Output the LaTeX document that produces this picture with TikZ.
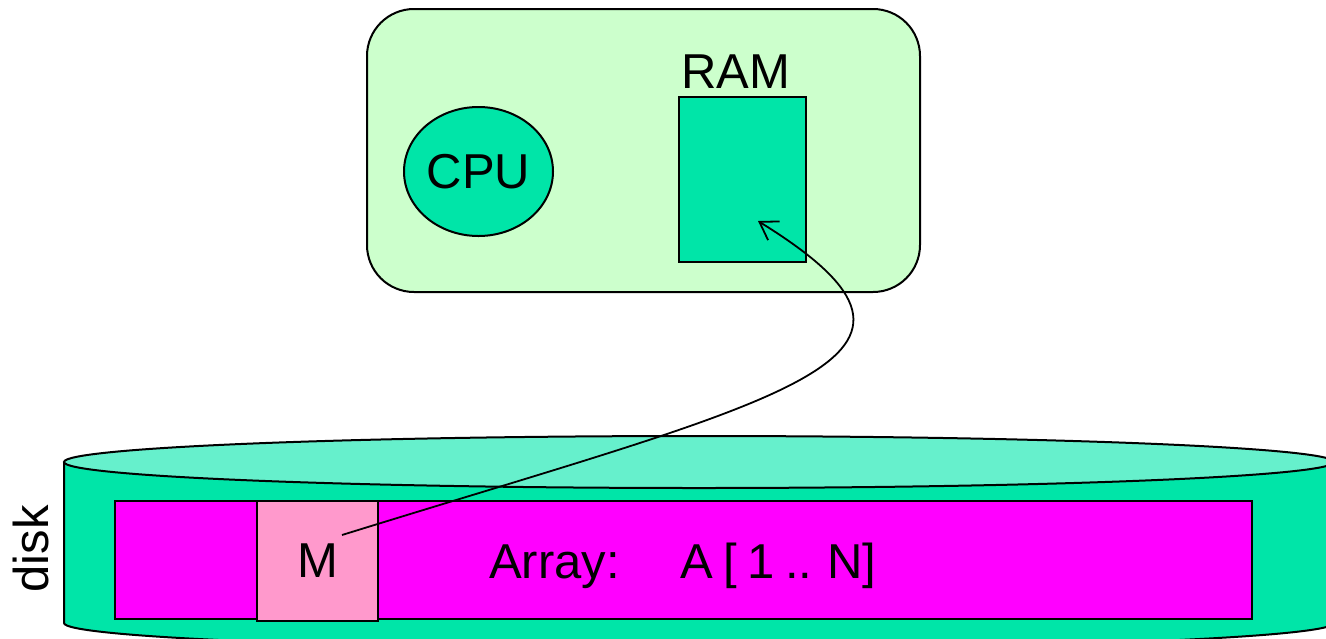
\documentclass[tikz,border=0pt]{standalone}
\usepackage{fontspec}
\setmainfont[WordSpace=0.75]{Liberation Sans}
\usetikzlibrary{arrows.meta,shapes.geometric}
\definecolor{boardgreen}{HTML}{CCFFCC}
\definecolor{chipgreen}{HTML}{00E5A8}
\definecolor{disktop}{HTML}{66F0CC}
\definecolor{arraymag}{HTML}{FF00FF}
\definecolor{blockpink}{HTML}{FF99CC}
\begin{document}
\begin{tikzpicture}[x=1pt,y=-1pt,
  outline/.style={draw=black,line width=2pt},
  bigtext/.style={font=\fontsize{49}{58}\selectfont,inner sep=0pt},
  box/.style={outline,rectangle,inner sep=0pt},
  transfer/.style={line width=1.8pt,-{Straight Barb[length=17pt,width=22pt]}}]
\useasboundingbox (0,0) rectangle (1326,638);

% computer: board, CPU and RAM
\node[box, fill=boardgreen, rounded corners=47pt,
      minimum width=553pt, minimum height=283pt] (machine) at (643.5,150.5) {};
\node[outline, ellipse, fill=chipgreen, bigtext,
      minimum width=149pt, minimum height=129pt] (cpu) at (478.5,171.5) {CPU};
\node[box, fill=chipgreen, minimum width=127pt, minimum height=165pt] (ram) at (742.5,179.5) {};
\node[bigtext, anchor=base] (ramlabel) at (736,88) {RAM};

% disk: cylinder side, then its top face
\path[fill=chipgreen, draw=black, line width=2pt]
  (64,462) -- (64,623) arc[start angle=180, end angle=360, x radius=635pt, y radius=26pt]
  -- (1334,462);
\draw[outline, fill=disktop] (699,462) ellipse[x radius=635pt, y radius=26pt];
\node[bigtext, rotate=90, anchor=base] (disklabel) at (48,549) {disk};

% array stored on disk, with the block M
\node[box, fill=arraymag, minimum width=1137pt, minimum height=118pt] (array) at (683.5,560) {};
\node[box, fill=blockpink, bigtext, minimum width=121pt, minimum height=120pt] (block) at (317.5,561) {M};
\node[bigtext, anchor=base west] (arraytext) at (489,578) {Array:\hspace{61pt}A [ 1 .. N]};

% block transfer from disk into RAM
\coordinate (src) at (342,535);
\coordinate (dst) at (758,221);
\draw[transfer] (src) .. controls +(450,-139.5) and +(225,139) .. (dst);
\end{tikzpicture}
\end{document}
